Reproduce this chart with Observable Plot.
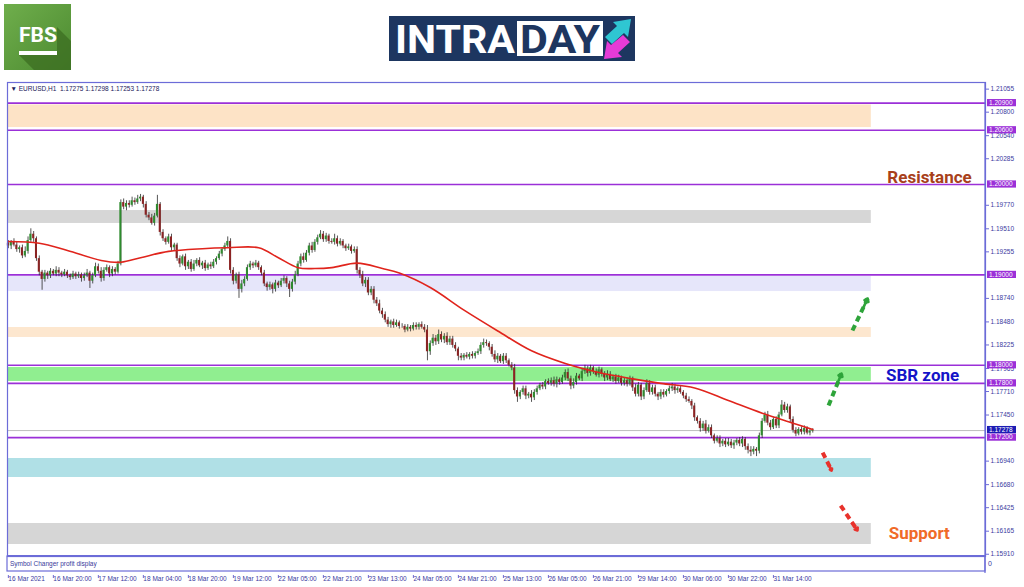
<!DOCTYPE html>
<html><head><meta charset="utf-8">
<script src="https://cdn.jsdelivr.net/npm/d3@7"></script>
<script src="https://cdn.jsdelivr.net/npm/@observablehq/plot@0.6"></script>
<style>
html,body{margin:0;padding:0;background:#fff;}
#root{position:relative;width:1024px;height:587px;overflow:hidden;}
#logos{position:absolute;left:0;top:0;}
#chart{position:absolute;left:0;top:80px;}
</style></head><body>
<div id="root">
<svg id="logos" width="1024" height="80" xmlns="http://www.w3.org/2000/svg">
  <defs>
    <linearGradient id="fbsg" x1="0" y1="0" x2="1" y2="1">
      <stop offset="0" stop-color="#6fae4c"/><stop offset="1" stop-color="#4c8a30"/>
    </linearGradient>
  </defs>
  <rect x="4" y="4" width="67" height="66" fill="url(#fbsg)"/>
  <polygon points="57,27 71,41 71,70 34,70 19,55 57,55" fill="#3c6e22" opacity="0.75"/>
  <text x="38" y="42" text-anchor="middle" font-family="Roboto, 'Liberation Sans', sans-serif" font-weight="bold" font-size="21" fill="#fff" textLength="38" lengthAdjust="spacingAndGlyphs">FBS</text>
  <rect x="19" y="51" width="38" height="4" fill="#fff"/>

  <rect x="389" y="16" width="246" height="45" fill="#1d3660"/>
  <text x="395" y="53" font-family="Roboto, 'Liberation Sans', sans-serif" font-weight="bold" font-size="38" fill="#fff" textLength="120" lengthAdjust="spacingAndGlyphs">INTRA</text>
  <rect x="517" y="21" width="86" height="35" fill="#fff"/>
  <text x="520" y="53" font-family="Roboto, 'Liberation Sans', sans-serif" font-weight="bold" font-size="38" fill="#1d3660" textLength="80" lengthAdjust="spacingAndGlyphs">DAY</text>
  <polygon points="605,37 617,26 613,22 631,19 628,37 624,33 612,44" fill="#2fc6d2"/>
  <polygon points="630,42 618,53 622,57 604,59 607,41 611,45 623,35" fill="#e63bd6"/>
</svg>
<div id="chart"></div>
</div>
<script>
// ---------------- data ----------------
const tickLabels = ["16 Mar 2021","16 Mar 20:00","17 Mar 12:00","18 Mar 04:00","18 Mar 20:00","19 Mar 12:00","22 Mar 05:00","22 Mar 21:00","23 Mar 13:00","24 Mar 05:00","24 Mar 21:00","25 Mar 13:00","26 Mar 05:00","26 Mar 21:00","29 Mar 14:00","30 Mar 06:00","30 Mar 22:00","31 Mar 14:00"];
const tickBars = [0,16,32,48,64,80,96,112,128,144,160,176,192,208,224,240,256,272];
// visible price-scale labels (those hidden behind level boxes are omitted)
const yTicks = [1.21055,1.20800,1.20540,1.20285,1.19770,1.19510,1.19255,1.18740,1.18480,1.18225,1.17965,1.17710,1.17450,1.16940,1.16680,1.16425,1.16165,1.15910];
const levels = [1.209,1.206,1.200,1.190,1.180,1.178,1.172];
const currentPrice = 1.17278;
const header = "\u25BC EURUSD,H1  1.17275 1.17298 1.17253 1.17278";

const firstOpen = 1.1935;
const closes = [
1.1932,1.1936,1.1933,1.1928,1.1930,1.1921,1.1926,1.1938,1.1945,1.1940,
1.1918,1.1903,1.1895,1.1902,1.1899,1.1904,1.1901,1.1905,1.1902,1.1900,
1.1903,1.1899,1.1897,1.1901,1.1898,1.1900,1.1896,1.1899,1.1902,1.1893,
1.1899,1.1909,1.1904,1.1896,1.1905,1.1908,1.1901,1.1906,1.1903,1.1912,
1.1980,1.1975,1.1979,1.1977,1.1982,1.1980,1.1984,1.1986,1.1978,1.1966,
1.1963,1.1957,1.1965,1.1978,1.1947,1.1940,1.1936,1.1942,1.1930,1.1933,
1.1918,1.1912,1.1920,1.1909,1.1914,1.1906,1.1912,1.1916,1.1910,1.1913,
1.1907,1.1911,1.1909,1.1914,1.1918,1.1923,1.1928,1.1932,1.1937,1.1905,
1.1893,1.1900,1.1884,1.1890,1.1895,1.1908,1.1912,1.1910,1.1913,1.1908,
1.1902,1.1890,1.1886,1.1889,1.1884,1.1891,1.1888,1.1893,1.1896,1.1890,
1.1884,1.1892,1.1900,1.1912,1.1920,1.1916,1.1924,1.1932,1.1927,1.1936,
1.1941,1.1945,1.1939,1.1943,1.1937,1.1936,1.1940,1.1934,1.1937,1.1932,
1.1929,1.1931,1.1926,1.1928,1.1905,1.1900,1.1890,1.1894,1.1880,1.1884,
1.1872,1.1868,1.1860,1.1856,1.1850,1.1845,1.1848,1.1844,1.1847,1.1843,
1.1843,1.1839,1.1842,1.1840,1.1844,1.1842,1.1845,1.1842,1.1839,1.1815,
1.1824,1.1830,1.1826,1.1834,1.1828,1.1832,1.1825,1.1829,1.1822,1.1818,
1.1810,1.1808,1.1811,1.1809,1.1812,1.1810,1.1813,1.1815,1.1822,1.1825,
1.1824,1.1820,1.1812,1.1806,1.1810,1.1804,1.1810,1.1805,1.1800,1.1797,
1.1772,1.1765,1.1770,1.1774,1.1766,1.1768,1.1764,1.1770,1.1774,1.1778,
1.1776,1.1782,1.1780,1.1783,1.1779,1.1784,1.1781,1.1786,1.1792,1.1785,
1.1777,1.1781,1.1788,1.1785,1.1793,1.1796,1.1791,1.1797,1.1793,1.1789,
1.1795,1.1790,1.1786,1.1790,1.1784,1.1787,1.1782,1.1786,1.1780,1.1783,
1.1779,1.1785,1.1775,1.1768,1.1778,1.1765,1.1772,1.1780,1.1770,1.1775,
1.1768,1.1765,1.1770,1.1767,1.1771,1.1774,1.1776,1.1772,1.1774,1.1770,
1.1766,1.1762,1.1760,1.1755,1.1742,1.1738,1.1730,1.1735,1.1727,1.1731,
1.1722,1.1716,1.1719,1.1713,1.1716,1.1712,1.1715,1.1711,1.1714,1.1717,
1.1713,1.1718,1.1710,1.1706,1.1704,1.1707,1.1705,1.1722,1.1738,1.1745,
1.1736,1.1731,1.1740,1.1733,1.1745,1.1756,1.1750,1.1754,1.1740,1.1728,
1.1724,1.1729,1.1726,1.1730,1.1725,1.1727,1.17278];
// wick lengths above / below the body, in pips
const wickUp = [
3,2,4,3,2,3,5,4,6,3, 2,3,2,3,2,3,2,4,3,2, 3,2,2,3,2,3,2,3,4,2, 3,4,3,4,3,3,2,3,2,3,
3,4,3,3,4,3,4,3,2,3, 3,4,3,10,2,3,2,3,3,2, 2,3,2,3,2,3,4,2,3,2, 3,2,3,3,2,3,2,3,5,3,
3,2,3,4,3,3,3,2,3,2, 2,3,2,3,2,3,2,3,3,2, 3,3,4,3,3,4,3,3,4,3, 3,4,3,3,2,3,5,3,3,2,
2,3,2,3,3,3,4,3,3,3, 3,3,4,3,3,3,2,3,3,2, 3,2,3,2,3,3,2,3,3,5, 3,4,3,5,3,3,4,3,3,3,
2,3,2,3,2,3,2,3,3,4, 3,2,3,4,3,2,3,3,2,3, 4,3,2,3,3,2,4,3,3,2, 3,2,3,3,4,3,2,3,3,4,
3,4,3,2,3,4,3,3,2,3, 3,2,3,4,3,2,3,3,2,3, 3,3,2,4,3,2,3,4,3,3, 3,2,3,3,2,3,4,3,2,3,
2,3,3,2,3,2,3,3,4,3, 3,2,3,3,2,3,4,3,3,2, 3,3,2,3,4,3,2,3,3,3, 4,3,2,3,3,5,3,3,2,3,
3,2,3,3,2,3,2];
const wickDn = [
3,4,2,3,4,3,2,3,2,4, 3,4,12,3,4,3,2,3,4,3, 2,3,3,2,3,2,4,3,2,8, 3,2,3,4,3,2,4,3,3,2,
2,3,4,3,2,3,2,3,4,3, 3,2,3,2,4,3,3,2,4,3, 3,4,2,4,3,3,2,3,2,4, 3,2,3,2,3,2,3,2,2,4,
4,3,10,4,3,2,3,3,2,3, 3,3,4,3,5,3,3,2,3,4, 9,3,3,2,3,3,2,3,3,2, 3,2,3,3,3,2,3,3,2,3,
3,2,3,2,4,4,3,4,3,3, 4,3,3,4,3,3,4,3,2,3, 2,3,2,3,2,3,3,2,3,10, 4,3,4,3,3,4,3,3,3,3,
5,3,3,2,3,3,3,2,3,3, 3,4,3,3,4,2,3,3,2,3, 4,6,3,3,4,3,5,3,3,2, 3,3,2,3,3,4,3,2,3,3,
4,3,3,2,3,3,4,3,3,2, 3,3,4,3,2,3,3,2,3,3, 3,2,4,3,3,4,3,2,3,3, 3,4,3,3,2,3,3,4,3,2,
3,3,2,4,4,3,4,3,3,2, 3,3,2,4,3,3,2,3,4,3, 3,4,4,4,5,3,6,3,3,2, 3,3,2,3,3,2,3,3,4,3,
3,2,3,3,2,3,2];
// moving average (read at selected bars)
const maBars = [0,11,21,33,40,47,57,69,78,89,96,103,109,115,124,133,139,150,162,174,186,198,210,222,232,244,256,268,279,286];
const maValues = [1.1937,1.1935,1.1927,1.1916,1.1914,1.1919,1.1926,1.1929,1.1930,1.1930,1.1919,1.1908,1.1907,1.1908,1.1913,1.1907,1.1902,1.1886,1.1861,1.1838,1.1816,1.1802,1.1792,1.1785,1.1780,1.1775,1.1761,1.1747,1.1736,1.1729];
// horizontal zones (price bounds)
const zoneLow  = [1.2063,1.19569,1.18816,1.18308,1.17821,1.16759,1.16018];
const zoneHigh = [1.2088,1.19712,1.18982,1.18418,1.17976,1.16969,1.16250];
// projection arrows (bar index, price)
const arrowFromBar = [300.1,291.6,289.5,295.9];
const arrowFromPrice = [1.18385,1.17555,1.17035,1.16449];
const arrowToBar = [305.5,296.2,292.7,301.9];
const arrowToPrice = [1.18739,1.17909,1.16836,1.16173];
const arrowKind = ["up","up","down","down"];

// ---------------- styles ----------------
const zoneFill = ["#fde3c6","#d6d6d6","#e6e6fa","#fde7cf","#90ee90","#b0e0e6","#d6d6d6"];
const levelColor = "#9b30d8", frameColor = "#6c6cd8", axisText = "#3a3aa0";
const upColor = "#2e8b2e", dnColor = "#8b2323", wickColor = "#2a2a2a";
const zoneEnd = 306.8;

const bars = closes.map((c, i) => {
  const o = i === 0 ? firstOpen : closes[i - 1];
  return {i, o, c, hi: Math.max(o, c) + wickUp[i] / 1e4, lo: Math.min(o, c) - wickDn[i] / 1e4};
});
const ma = maBars.map((b, k) => ({b, v: maValues[k]}));
const zones = zoneLow.map((lo, k) => ({lo, hi: zoneHigh[k], fill: zoneFill[k]}));
const arrows = arrowKind.map((kind, k) => ({
  x1: arrowFromBar[k], y1: arrowFromPrice[k], x2: arrowToBar[k], y2: arrowToPrice[k],
  color: kind === "up" ? "#2ea43a" : "#e8322c"
}));
const heads = arrows.map(a => ({...a, x1: a.x2 - (a.x2 - a.x1) * 0.3, y1: a.y2 - (a.y2 - a.y1) * 0.3}));

const H = 507, mL = 7, mR = 39, mT = 2, mB = 31;
const font = "'Liberation Sans', Arial, sans-serif";
const bold = "Roboto, 'Liberation Sans', sans-serif";

const plot = Plot.plot({
  width: 1024, height: H,
  marginLeft: mL, marginRight: mR, marginTop: mT, marginBottom: mB,
  style: {fontFamily: font, fontSize: "6.5px", background: "#fff", overflow: "visible"},
  x: {domain: [-0.3, 347.4], axis: null},
  y: {domain: [1.15885, 1.211283], axis: null},
  marks: [
    Plot.rect(zones, {x1: -0.3, x2: zoneEnd, y1: "lo", y2: "hi", fill: "fill"}),
    Plot.ruleY([currentPrice], {stroke: "#bdbdbd", strokeWidth: 1}),
    Plot.ruleY(levels, {stroke: levelColor, strokeWidth: 1.6}),
    Plot.ruleX(bars, {x: "i", y1: "lo", y2: "hi", stroke: wickColor, strokeWidth: 0.8}),
    Plot.rect(bars, {x1: d => d.i - 0.36, x2: d => d.i + 0.36, y1: "o", y2: "c",
      fill: d => d.c >= d.o ? upColor : dnColor}),
    Plot.line(ma, {x: "b", y: "v", stroke: "#e0241c", strokeWidth: 1.6, curve: "catmull-rom"}),
    Plot.link(arrows, {x1: "x1", y1: "y1", x2: "x2", y2: "y2", stroke: "color", strokeWidth: 4, strokeDasharray: "6,4"}),
    Plot.arrow(heads, {x1: "x1", y1: "y1", x2: "x2", y2: "y2", stroke: "color", strokeWidth: 2.6, headLength: 10, headAngle: 75}),
    Plot.text(["Resistance"], {x: 312.5, y: levels[2], textAnchor: "start", lineAnchor: "bottom", dy: -1,
      fill: "#a8401a", fontSize: 17, fontWeight: "bold", fontFamily: bold}),
    Plot.text(["SBR zone"], {x: 312, y: (levels[4] + levels[5]) / 2, textAnchor: "start", lineAnchor: "middle", dy: 1,
      fill: "#1414c8", fontSize: 17, fontWeight: "bold", fontFamily: bold}),
    Plot.text(["Support"], {x: 313, y: (zoneLow[6] + zoneHigh[6]) / 2, textAnchor: "start", lineAnchor: "middle",
      fill: "#f06a28", fontSize: 17, fontWeight: "bold", fontFamily: bold}),
    Plot.text([header], {frameAnchor: "top-left", dx: 3, dy: 4, textAnchor: "start", fill: "#20205a", fontSize: 6.5}),
    Plot.frame({stroke: frameColor, strokeWidth: 1.2}),
    Plot.axisY({anchor: "right", ticks: yTicks, tickFormat: d3.format(".5f"), tickSize: 3, tickPadding: 2,
      stroke: frameColor, fill: axisText, fontSize: 6.5}),
    Plot.axisX({anchor: "bottom", ticks: tickBars, tickFormat: d => tickLabels[tickBars.indexOf(d)],
      tickSize: 3, tickPadding: -2, dy: 19, textAnchor: "start", dx: 0, stroke: frameColor, fill: axisText, fontSize: 6.5})
  ]
});
document.getElementById("chart").appendChild(plot);

// chart chrome: sub-window, axis line and price label boxes (placed with the plot's own y scale)
const ys = plot.scale("y");
const svg = d3.select(plot);
const right = 1024 - mR, bottom = H - mB;
svg.append("rect").attr("x", mL).attr("y", bottom).attr("width", right - mL).attr("height", 15)
  .attr("fill", "none").attr("stroke", frameColor).attr("stroke-width", 1.2);
svg.append("line").attr("x1", mL).attr("x2", right).attr("y1", bottom).attr("y2", bottom)
  .attr("stroke", frameColor).attr("stroke-width", 2);
svg.append("line").attr("x1", right).attr("x2", right).attr("y1", mT).attr("y2", bottom + 17)
  .attr("stroke", frameColor).attr("stroke-width", 1.2);
svg.append("text").attr("x", mL + 3).attr("y", bottom + 10).attr("fill", "#3a3a9a").attr("text-anchor", "start")
  .attr("font-size", 6.5).attr("font-family", font).text("Symbol Changer profit display");
svg.append("text").attr("x", right + 3).attr("y", bottom + 10).attr("fill", axisText).attr("text-anchor", "start")
  .attr("font-size", 7).attr("font-family", font).text("0");
const boxes = levels.map(v => ({v, y: ys.apply(v), fill: levelColor}))
  .concat([{v: currentPrice, y: ys.apply(currentPrice) - 0.5, fill: "#1c1cb4"}]);
const bg = svg.append("g");
for (const b of boxes) {
  bg.append("rect").attr("x", right + 2).attr("y", b.y - 3.6).attr("width", 29).attr("height", 7.2).attr("fill", b.fill);
  bg.append("text").attr("x", right + 4).attr("y", b.y + 2.3).attr("fill", "#fff").attr("font-size", 6.5)
    .attr("text-anchor", "start").attr("font-family", font).text(d3.format(".5f")(b.v));
}
</script>
</body></html>
